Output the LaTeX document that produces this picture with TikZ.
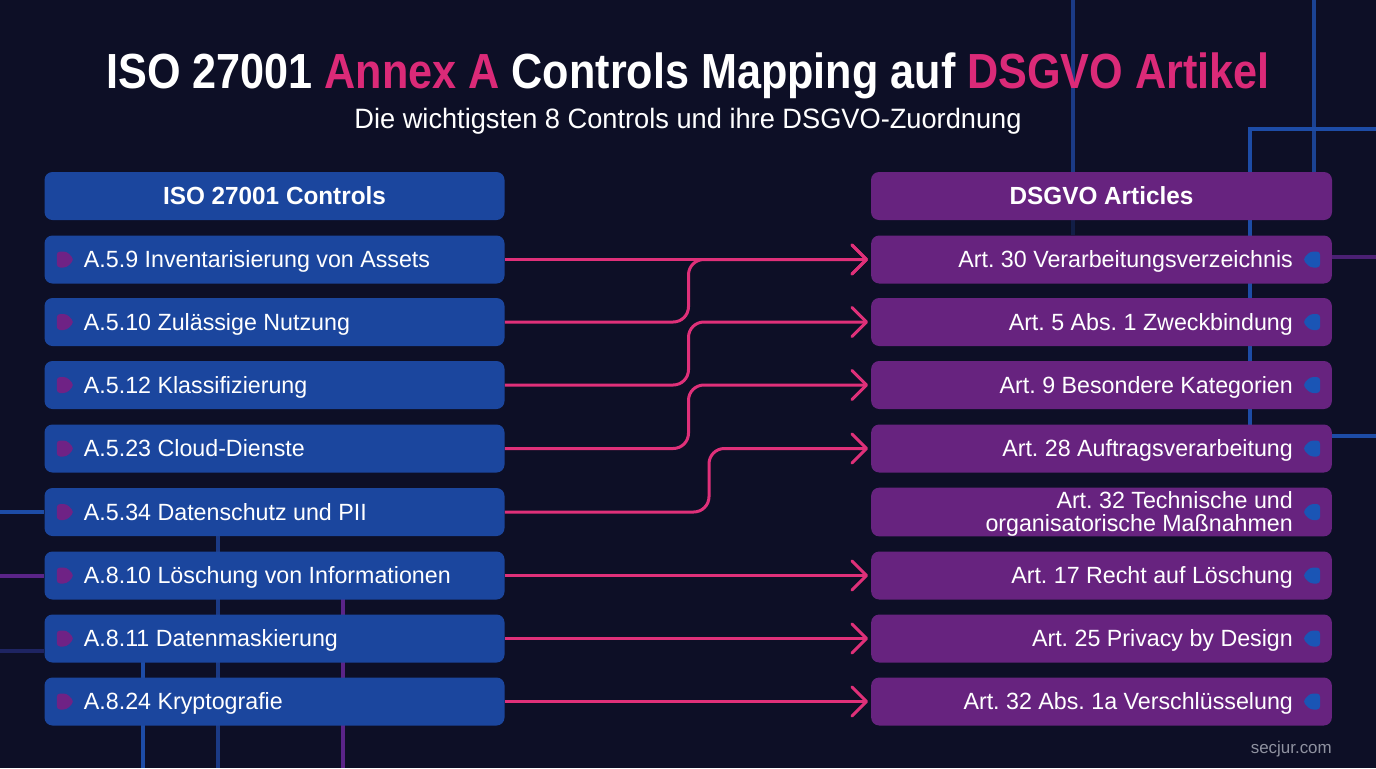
\documentclass[tikz,border=0pt]{standalone}
\usepackage{fontspec}
\setmainfont{Liberation Sans}
\newfontfamily\bodyf[FakeStretch=0.99]{Liberation Sans}
\newfontfamily\headf[FakeStretch=0.98]{Liberation Sans}
\newfontfamily\titlef[FakeStretch=0.875]{Liberation Sans}
\newfontfamily\subf[FakeStretch=0.972]{Liberation Sans}
\usetikzlibrary{arrows.meta}
\definecolor{bgc}{HTML}{0D0F26}
\definecolor{boxblue}{HTML}{1B469E}
\definecolor{boxpurple}{HTML}{67237F}
\definecolor{pinkc}{HTML}{DF3079}
\definecolor{titlepink}{HTML}{DB2A78}
\definecolor{markpurple}{HTML}{6F2285}
\definecolor{markblue}{HTML}{1A55B5}
\definecolor{lineblue}{HTML}{1D4CA6}
\definecolor{linedim}{HTML}{1B3A85}
\definecolor{linefaint}{HTML}{1E2462}
\definecolor{linepurple}{HTML}{5A2488}
\definecolor{footc}{HTML}{8F92A0}
\tikzset{
  px/.style={x=0.75pt,y=-0.75pt},
  panel/.style={rounded corners=6pt,inner ysep=0pt,minimum height=36pt,text=white},
  lbox/.style={panel,fill=boxblue,inner xsep=29.6pt,text width=285.8pt,align=flush left,font=\bodyf\fontsize{17.6}{17.25}\selectfont,text height=17.4pt,text depth=5pt},
  rbox/.style={panel,fill=boxpurple,inner xsep=29.25pt,text width=287pt,align=flush right,font=\bodyf\fontsize{17.6}{17.25}\selectfont,text height=17.4pt,text depth=5pt},
  lhead/.style={panel,fill=boxblue,minimum width=345pt,font=\headf\fontsize{18.6}{20}\selectfont\bfseries},
  rhead/.style={panel,fill=boxpurple,minimum width=345.75pt,font=\headf\fontsize{18.6}{20}\selectfont\bfseries},
  bgline/.style={line width=2.3pt},
  link/.style={draw=pinkc,line width=2.25pt,rounded corners=11.5pt,shorten >=2.2pt,-{Straight Barb[length=11pt,width=22pt,line width=2.25pt,round]}},
  titlenode/.style={font=\titlef\fontsize{37}{40}\selectfont\bfseries,text=white,inner sep=0pt},
  subnode/.style={font=\subf\fontsize{21}{24}\selectfont,text=white,inner sep=0pt},
  footnode/.style={font=\fontsize{12.7}{14}\selectfont,text=footc,inner sep=0pt}
}
\begin{document}
\begin{tikzpicture}[px]
\useasboundingbox (0,0) rectangle (1376,768);
\fill[bgc] (0,0) rectangle (1376,768);
% background traces
\draw[bgline,linedim] (1073,0) -- (1073,172);
\draw[bgline,linedim!35!bgc] (1073,172) -- (1073,235);
\draw[bgline,lineblue!85!bgc] (1314,0) -- (1314,172);
\draw[bgline,lineblue] (1376,129) -- (1250,129) -- (1250,440);
\draw[bgline,linepurple!80!bgc] (1332,257) -- (1376,257);
\draw[bgline,lineblue] (1332,436) -- (1376,436);
\draw[bgline,lineblue] (0,512) -- (44,512);
\draw[bgline,linepurple] (0,576) -- (44,576);
\draw[bgline,linefaint] (0,651) -- (44,651);
\draw[bgline,linedim] (218,530) -- (218,768);
\draw[bgline,lineblue] (143,655) -- (143,768);
\draw[bgline,linepurple] (343,595) -- (343,768);
% title
\node[titlenode,anchor=base] (title) at (688,88) {ISO 27001 \textcolor{titlepink}{Annex A} Controls Mapping auf \textcolor{titlepink}{DSGVO Artikel}};
\node[subnode,anchor=base] (subtitle) at (688,128) {Die wichtigsten 8 Controls und ihre DSGVO-Zuordnung};
% column heads
\node[lhead] (lh) at (274.5,196) {ISO 27001 Controls};
\node[rhead] (rh) at (1101.5,196) {DSGVO Articles};
% rows
\node[lbox] (l1) at (274.5,259.5) {A.5.9 Inventarisierung von Assets};
\node[lbox] (l2) at (274.5,322) {A.5.10 Zulässige Nutzung};
\node[lbox] (l3) at (274.5,385) {A.5.12 Klassifizierung};
\node[lbox] (l4) at (274.5,448.5) {A.5.23 Cloud-Dienste};
\node[lbox] (l5) at (274.5,512) {A.5.34 Datenschutz und PII};
\node[lbox] (l6) at (274.5,575.5) {A.8.10 Löschung von Informationen};
\node[lbox] (l7) at (274.5,638.5) {A.8.11 Datenmaskierung};
\node[lbox] (l8) at (274.5,701.5) {A.8.24 Kryptografie};
\node[rbox] (r1) at (1101.5,259.5) {\frenchspacing Art. 30 Verarbeitungsverzeichnis};
\node[rbox] (r2) at (1101.5,322) {\frenchspacing Art. 5 Abs. 1 Zweckbindung};
\node[rbox] (r3) at (1101.5,385) {\frenchspacing Art. 9 Besondere Kategorien};
\node[rbox] (r4) at (1101.5,448.5) {\frenchspacing Art. 28 Auftragsverarbeitung};
\node[rbox,text height=,text depth=,minimum height=36pt] (r5) at (1101.5,512) {\frenchspacing\rule{0pt}{15.6pt}Art. 32 Technische und\\organisatorische Maßnahmen};
\node[rbox] (r6) at (1101.5,575.5) {\frenchspacing Art. 17 Recht auf Löschung};
\node[rbox] (r7) at (1101.5,638.5) {\frenchspacing Art. 25 Privacy by Design};
\node[rbox] (r8) at (1101.5,701.5) {\frenchspacing Art. 32 Abs. 1a Verschlüsselung};
% row markers
\foreach \n in {1,...,8}{
  \fill[markpurple,rounded corners=2.5pt] ([xshift=9.4pt,yshift=6pt]l\n.west) -- ([xshift=17pt,yshift=6pt]l\n.west) -- ([xshift=22.4pt]l\n.west) -- ([xshift=17pt,yshift=-6pt]l\n.west) -- ([xshift=9.4pt,yshift=-6pt]l\n.west) -- cycle;
  \fill[markblue,rounded corners=2.5pt] ([xshift=-9pt,yshift=6pt]r\n.east) -- ([xshift=-16.6pt,yshift=6pt]r\n.east) -- ([xshift=-22pt]r\n.east) -- ([xshift=-16.6pt,yshift=-6pt]r\n.east) -- ([xshift=-9pt,yshift=-6pt]r\n.east) -- cycle;
}
% bend columns
\coordinate (bendA) at (688.5,0);
\coordinate (bendB) at (709,0);
% links
\draw[link] (l1.east) -- (r1.west);
\draw[link] (l2.east) -- (bendA |- l2.east) -- (bendA |- r1.west) -- (r1.west);
\draw[link] (l3.east) -- (bendA |- l3.east) -- (bendA |- r2.west) -- (r2.west);
\draw[link] (l4.east) -- (bendA |- l4.east) -- (bendA |- r3.west) -- (r3.west);
\draw[link] (l5.east) -- (bendB |- l5.east) -- (bendB |- r4.west) -- (r4.west);
\draw[link] (l6.east) -- (r6.west);
\draw[link] (l7.east) -- (r7.west);
\draw[link] (l8.east) -- (r8.west);
\node[footnode,anchor=base east] (foot) at (1332,753) {secjur.com};
\end{tikzpicture}
\end{document}
